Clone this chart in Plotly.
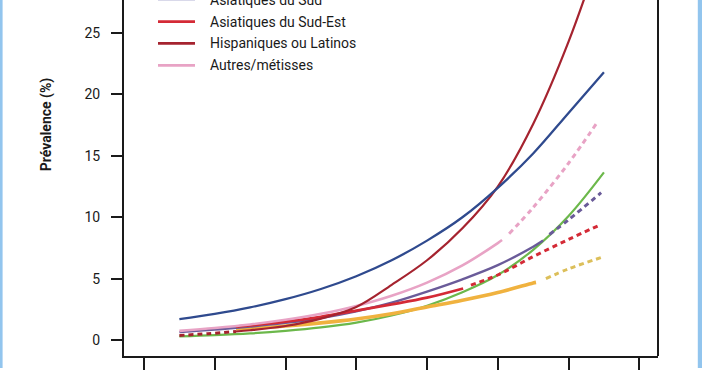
import plotly.graph_objects as go

# ---------------- data ----------------
age_grid = [25, 30, 35, 40, 45, 50, 55, 60, 65, 70, 75, 80, 85]

blue_y = [1.70, 2.13, 2.66, 3.33, 4.16, 5.2, 6.5, 8.1, 10.0, 12.4, 15.2, 18.5, 21.8]
green_y = [0.30, 0.40, 0.54, 0.75, 1.03, 1.42, 2.0, 2.8, 3.9, 5.3, 7.35, 10.1, 13.65]

hisp_dash_x = [25, 29, 33]
hisp_dash_y = [0.38, 0.52, 0.70]
hisp_x = [33, 35, 40, 45, 50, 55, 60, 65, 70, 75, 80, 85]
hisp_y = [0.70, 0.80, 1.15, 1.75, 2.7, 4.5, 6.5, 9.1, 12.5, 17.6, 24.3, 32.5]

pink_x = [25, 30, 35, 40, 45, 50, 55, 60, 65, 70, 70.6]
pink_y = [0.75, 0.98, 1.27, 1.65, 2.14, 2.78, 3.61, 4.68, 6.08, 7.9, 8.15]
pink_dash_x = [71.6, 75, 80, 83.9]
pink_dash_y = [8.66, 10.8, 14.4, 17.6]

purple_x = [25, 30, 35, 40, 45, 50, 55, 60, 65, 70, 75, 76.4]
purple_y = [0.65, 0.85, 1.1, 1.4, 1.8, 2.35, 3.05, 3.95, 4.95, 6.1, 7.6, 8.1]
purple_dash_x = [77.3, 80, 84.6]
purple_dash_y = [8.6, 9.8, 12.0]

red_x = [33, 35, 40, 45, 50, 55, 60, 65.1]
red_y = [1.1, 1.2, 1.5, 1.9, 2.4, 2.9, 3.45, 4.2]
red_dash_x = [66.2, 70, 75, 80, 84.3]
red_dash_y = [4.48, 5.3, 6.8, 8.2, 9.34]

orange_x = [33, 35, 40, 45, 50, 55, 60, 65, 70, 75, 75.4]
orange_y = [0.9, 0.95, 1.15, 1.4, 1.72, 2.15, 2.7, 3.25, 3.88, 4.65, 4.7]
orange_dash_x = [76.8, 80, 84.9]
orange_dash_y = [5.0, 5.8, 6.78]

y_ticks = [0, 5, 10, 15, 20, 25]
x_ticks = [20, 30, 40, 50, 60, 70, 80, 90]

legend_labels = ["Asiatiques du Sud", "Asiatiques du Sud-Est",
                 "Hispaniques ou Latinos", "Autres/métisses"]

# ---------------- styles ----------------
BLUE = "#2f4a8e"
GREEN = "#6cb84b"
HISP = "#a5232f"
PINK = "#e8a3c5"
PURPLE = "#6a5b99"
RED = "#d42a36"
ORANGE = "#f0b23f"
ORANGE_D = "#dcbf5a"
LAVENDER = "#d9d9ea"
legend_colors = [LAVENDER, RED, HISP, PINK]

W, H = 702, 370
ML, MR, MT, MB = 124, 44, 0, 12
PW, PH = W - ML - MR, H - MT - MB


def px_x(p):
    return (p - ML) / PW


def px_y(p):
    return (H - MB - p) / PH


fig = go.Figure()


def add(x, y, color, width, dash="solid", smoothing=1.0):
    fig.add_trace(go.Scatter(
        x=x, y=y, mode="lines", showlegend=False, hoverinfo="skip",
        line=dict(color=color, width=width, dash=dash, shape="spline", smoothing=smoothing),
    ))


DASH = "5px,4px"
add(age_grid, green_y, GREEN, 2.2)
add(orange_x, orange_y, ORANGE, 3.6)
add(orange_dash_x, orange_dash_y, ORANGE_D, 3, DASH)
add(purple_x, purple_y, PURPLE, 2.4)
add(purple_dash_x, purple_dash_y, PURPLE, 3, DASH)
add(red_x, red_y, RED, 2.8)
add(red_dash_x, red_dash_y, RED, 3, DASH)
add(pink_x, pink_y, PINK, 2.6)
add(pink_dash_x, pink_dash_y, PINK, 3, DASH)
add(hisp_dash_x, hisp_dash_y, HISP, 3, DASH)
add(hisp_x, hisp_y, HISP, 2.2)
add(age_grid, blue_y, BLUE, 2.3)

# manual legend (its upper part is outside the picture, as in the original crop)
leg_y = [-0.3, 21.7, 43.7, 65.7]
shapes = []
annotations = []
for lab, col, py in zip(legend_labels, legend_colors, leg_y):
    shapes.append(dict(type="line", xref="paper", yref="paper",
                       x0=px_x(158), x1=px_x(195), y0=px_y(py), y1=px_y(py),
                       line=dict(color=col, width=2.8)))
    annotations.append(dict(text=lab, xref="paper", yref="paper",
                            x=px_x(208), y=px_y(py), xanchor="left", yanchor="middle",
                            showarrow=False, font=dict(size=14, color="#1a1a1a")))

# right border of plot frame
shapes.append(dict(type="line", xref="paper", yref="paper", x0=1, x1=1, y0=0, y1=1,
                   line=dict(color="#1a1a1a", width=2)))
# light blue page frame
shapes.append(dict(type="rect", xref="paper", yref="paper", x0=px_x(0), x1=px_x(2.6),
                   y0=px_y(370), y1=px_y(0), line=dict(width=0), fillcolor="#92c5ee"))
shapes.append(dict(type="rect", xref="paper", yref="paper", x0=px_x(697.8), x1=px_x(702),
                   y0=px_y(370), y1=px_y(0), line=dict(width=0), fillcolor="#92c5ee"))

annotations.append(dict(text="<b>Prévalence (%)</b>", xref="paper", yref="paper",
                        x=px_x(46), y=px_y(125), textangle=-90, showarrow=False,
                        xanchor="center", yanchor="middle",
                        font=dict(size=14, color="#1a1a1a")))

# axis ranges derived from pixel calibration
x0 = 20 + (ML - 144) / 70.76 * 10
x1 = 20 + (W - MR - 144) / 70.76 * 10
y0 = (342 - (H - MB)) / 12.35
y1 = 342 / 12.35

fig.update_layout(
    width=W, height=H,
    margin=dict(l=ML, r=MR, t=MT, b=MB, pad=0),
    paper_bgcolor="white", plot_bgcolor="white",
    font=dict(family="Roboto, Arial, sans-serif", size=14, color="#1a1a1a"),
    shapes=shapes, annotations=annotations,
    xaxis=dict(range=[x0, x1], tickvals=x_ticks, showticklabels=False,
               ticks="outside", ticklen=14, tickwidth=2, tickcolor="#1a1a1a",
               showline=True, linecolor="#1a1a1a", linewidth=2,
               showgrid=False, zeroline=False),
    yaxis=dict(range=[y0, y1], tickvals=y_ticks, ticks="outside", ticklen=11,
               tickwidth=2, tickcolor="#1a1a1a", ticklabelstandoff=8,
               showline=True, linecolor="#1a1a1a", linewidth=2,
               showgrid=False, zeroline=False, tickfont=dict(size=14)),
)

fig.write_html("out.html", config={"displayModeBar": False},
               post_script="document.body.style.margin='0px';document.body.style.overflow='hidden';")
